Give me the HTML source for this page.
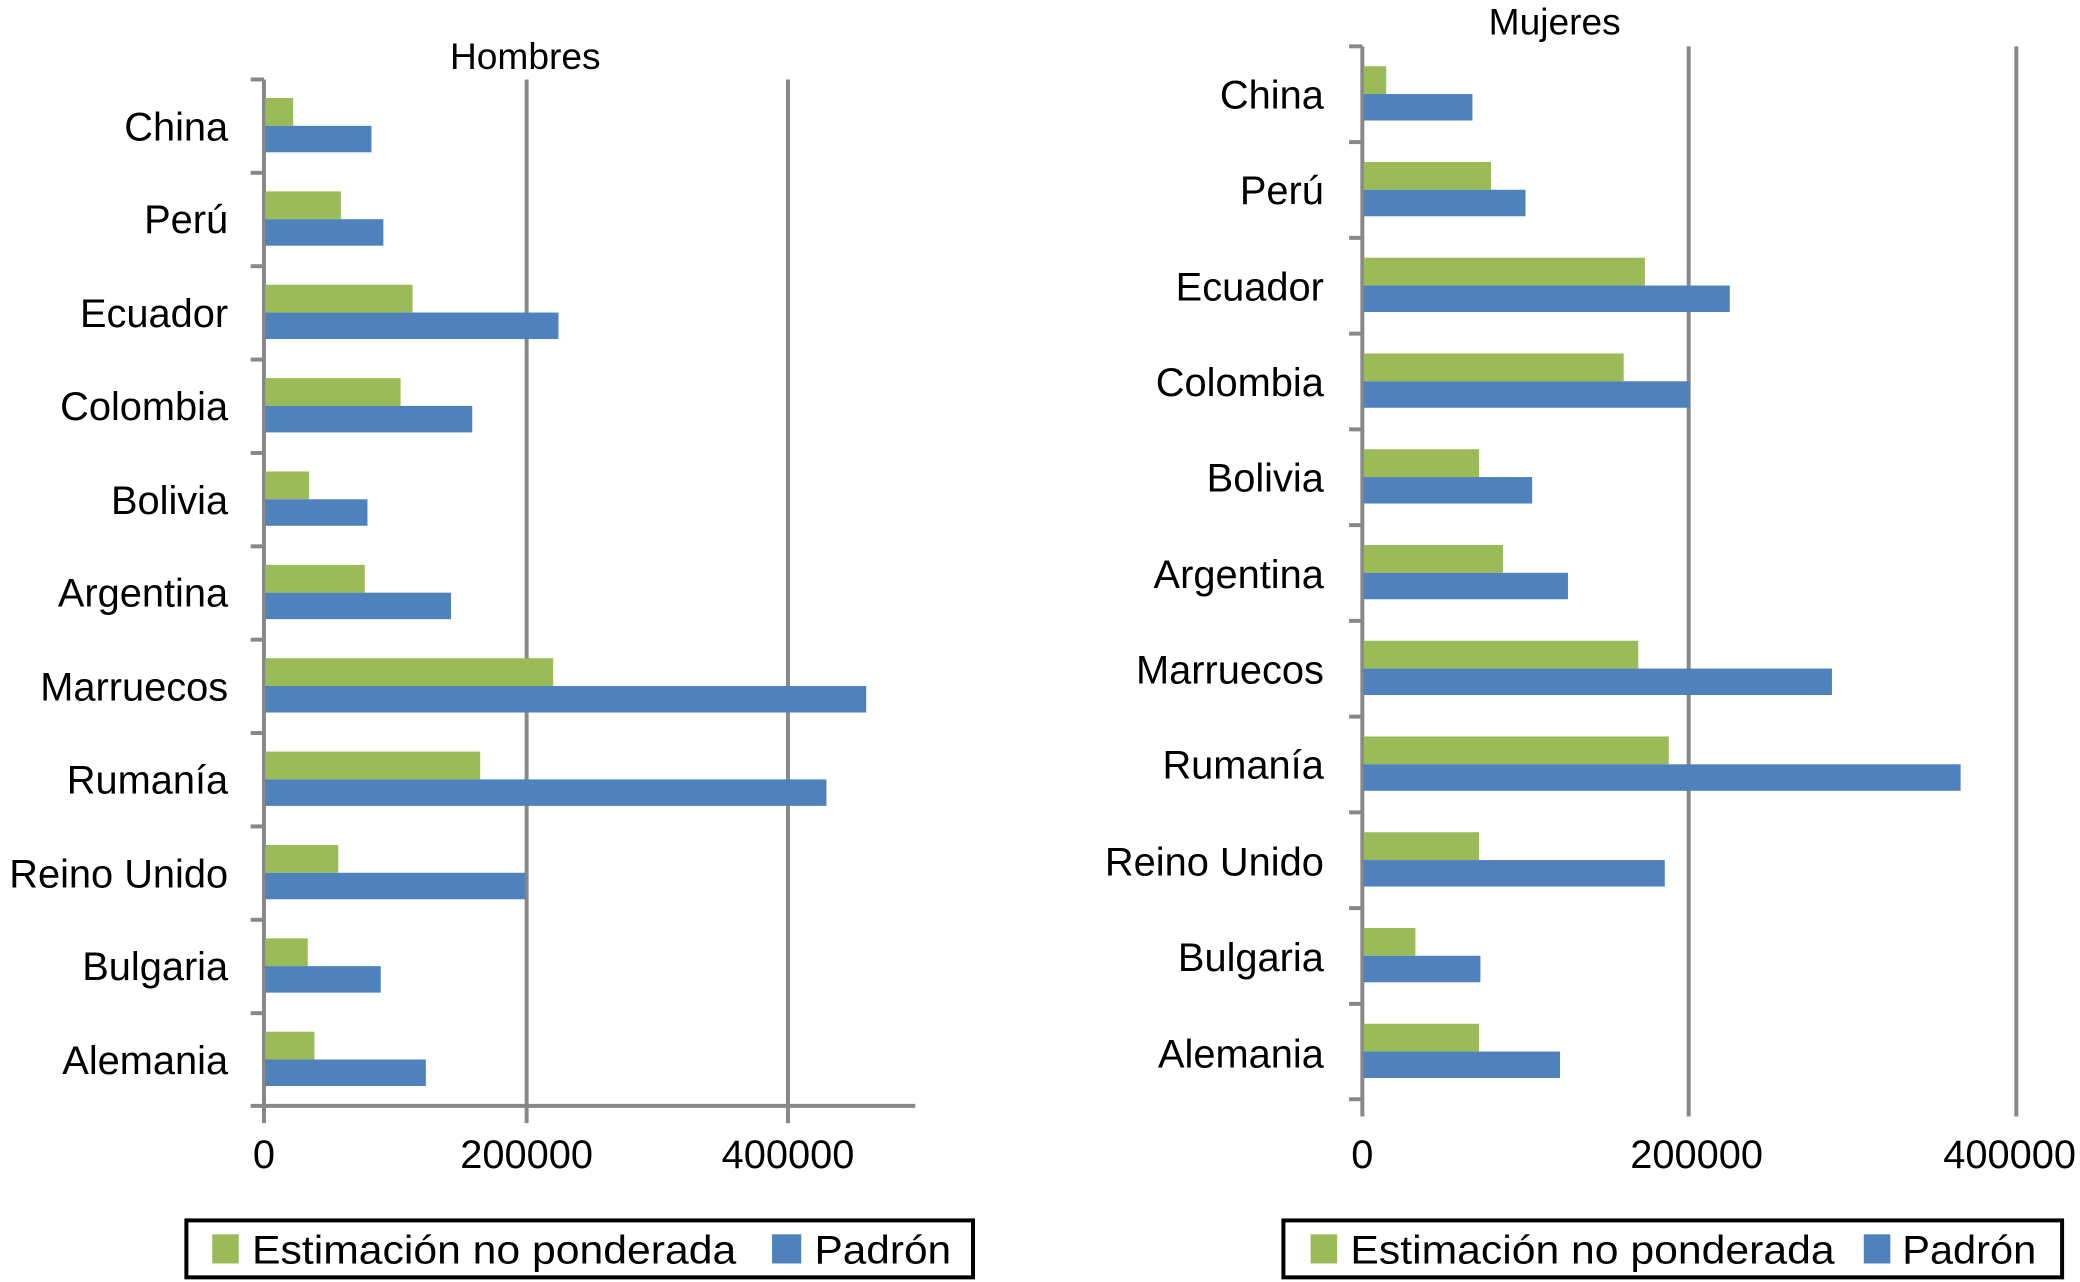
<!DOCTYPE html>
<html><head><meta charset="utf-8"><style>html,body{margin:0;padding:0;background:#fff}svg{display:block}text{font-family:"Liberation Sans",sans-serif;fill:#000}</style></head>
<body>
<svg width="2080" height="1282" viewBox="0 0 1568 968" preserveAspectRatio="none" xmlns="http://www.w3.org/2000/svg">
<rect width="1568" height="968" fill="#fff"/>
<g stroke="#888" stroke-width="3">
<line x1="397" y1="60" x2="397" y2="848"/><line x1="594" y1="60" x2="594" y2="848"/>
<line x1="199" y1="60" x2="199" y2="848"/><line x1="189" y1="835" x2="690" y2="835"/>
<line x1="189" y1="60" x2="199" y2="60"/><line x1="189" y1="130.5" x2="199" y2="130.5"/><line x1="189" y1="201" x2="199" y2="201"/><line x1="189" y1="271.5" x2="199" y2="271.5"/><line x1="189" y1="342" x2="199" y2="342"/><line x1="189" y1="412.5" x2="199" y2="412.5"/><line x1="189" y1="483" x2="199" y2="483"/><line x1="189" y1="553.5" x2="199" y2="553.5"/><line x1="189" y1="624" x2="199" y2="624"/><line x1="189" y1="694.5" x2="199" y2="694.5"/><line x1="189" y1="765" x2="199" y2="765"/>
</g>
<g>
<rect x="200" y="74" width="21" height="21" fill="#9bbb59"/><rect x="200" y="95" width="80" height="20" fill="#4f81bd"/>
<rect x="200" y="144.5" width="57" height="21" fill="#9bbb59"/><rect x="200" y="165.5" width="89" height="20" fill="#4f81bd"/>
<rect x="200" y="215" width="111" height="21" fill="#9bbb59"/><rect x="200" y="236" width="221" height="20" fill="#4f81bd"/>
<rect x="200" y="285.5" width="102" height="21" fill="#9bbb59"/><rect x="200" y="306.5" width="156" height="20" fill="#4f81bd"/>
<rect x="200" y="356" width="33" height="21" fill="#9bbb59"/><rect x="200" y="377" width="77" height="20" fill="#4f81bd"/>
<rect x="200" y="426.5" width="75" height="21" fill="#9bbb59"/><rect x="200" y="447.5" width="140" height="20" fill="#4f81bd"/>
<rect x="200" y="497" width="217" height="21" fill="#9bbb59"/><rect x="200" y="518" width="453" height="20" fill="#4f81bd"/>
<rect x="200" y="567.5" width="162" height="21" fill="#9bbb59"/><rect x="200" y="588.5" width="423" height="20" fill="#4f81bd"/>
<rect x="200" y="638" width="55" height="21" fill="#9bbb59"/><rect x="200" y="659" width="196" height="20" fill="#4f81bd"/>
<rect x="200" y="708.5" width="32" height="21" fill="#9bbb59"/><rect x="200" y="729.5" width="87" height="20" fill="#4f81bd"/>
<rect x="200" y="779" width="37" height="21" fill="#9bbb59"/><rect x="200" y="800" width="121" height="20" fill="#4f81bd"/>
</g>
<g font-size="30" text-anchor="end">
<text x="172" y="106">China</text><text x="172" y="176">Perú</text><text x="172" y="247">Ecuador</text><text x="172" y="317">Colombia</text><text x="172" y="388">Bolivia</text><text x="172" y="458">Argentina</text><text x="172" y="529">Marruecos</text><text x="172" y="599">Rumanía</text><text x="172" y="670">Reino Unido</text><text x="172" y="740">Bulgaria</text><text x="172" y="811">Alemania</text>
</g>
<text x="396" y="52" font-size="28" text-anchor="middle">Hombres</text>
<g font-size="30" text-anchor="middle"><text x="199" y="882">0</text><text x="397" y="882">200000</text><text x="594" y="882">400000</text></g>
<rect x="140.5" y="921.5" width="593" height="43" fill="none" stroke="#000" stroke-width="3"/>
<rect x="160" y="932" width="20" height="22" fill="#9bbb59"/><text x="190" y="954" font-size="30" textLength="365" lengthAdjust="spacingAndGlyphs">Estimación  no ponderada</text>
<rect x="582" y="932" width="22" height="22" fill="#4f81bd"/><text x="614" y="954" font-size="30" textLength="103" lengthAdjust="spacingAndGlyphs">Padrón</text>
<g stroke="#888" stroke-width="3">
<line x1="1273" y1="35" x2="1273" y2="843"/><line x1="1520" y1="35" x2="1520" y2="843"/>
<line x1="1027" y1="35" x2="1027" y2="843"/>
<line x1="1017" y1="35" x2="1027" y2="35"/><line x1="1017" y1="107.3" x2="1027" y2="107.3"/><line x1="1017" y1="179.6" x2="1027" y2="179.6"/><line x1="1017" y1="251.9" x2="1027" y2="251.9"/><line x1="1017" y1="324.2" x2="1027" y2="324.2"/><line x1="1017" y1="396.5" x2="1027" y2="396.5"/><line x1="1017" y1="468.8" x2="1027" y2="468.8"/><line x1="1017" y1="541.1" x2="1027" y2="541.1"/><line x1="1017" y1="613.4" x2="1027" y2="613.4"/><line x1="1017" y1="685.7" x2="1027" y2="685.7"/><line x1="1017" y1="758" x2="1027" y2="758"/><line x1="1017" y1="830" x2="1027" y2="830"/>
</g>
<g>
<rect x="1028" y="50" width="17" height="21" fill="#9bbb59"/><rect x="1028" y="71" width="82" height="20" fill="#4f81bd"/>
<rect x="1028" y="122.3" width="96" height="21" fill="#9bbb59"/><rect x="1028" y="143.3" width="122" height="20" fill="#4f81bd"/>
<rect x="1028" y="194.6" width="212" height="21" fill="#9bbb59"/><rect x="1028" y="215.6" width="276" height="20" fill="#4f81bd"/>
<rect x="1028" y="266.9" width="196" height="21" fill="#9bbb59"/><rect x="1028" y="287.9" width="246" height="20" fill="#4f81bd"/>
<rect x="1028" y="339.2" width="87" height="21" fill="#9bbb59"/><rect x="1028" y="360.2" width="127" height="20" fill="#4f81bd"/>
<rect x="1028" y="411.5" width="105" height="21" fill="#9bbb59"/><rect x="1028" y="432.5" width="154" height="20" fill="#4f81bd"/>
<rect x="1028" y="483.8" width="207" height="21" fill="#9bbb59"/><rect x="1028" y="504.8" width="353" height="20" fill="#4f81bd"/>
<rect x="1028" y="556.1" width="230" height="21" fill="#9bbb59"/><rect x="1028" y="577.1" width="450" height="20" fill="#4f81bd"/>
<rect x="1028" y="628.4" width="87" height="21" fill="#9bbb59"/><rect x="1028" y="649.4" width="227" height="20" fill="#4f81bd"/>
<rect x="1028" y="700.7" width="39" height="21" fill="#9bbb59"/><rect x="1028" y="721.7" width="88" height="20" fill="#4f81bd"/>
<rect x="1028" y="773" width="87" height="21" fill="#9bbb59"/><rect x="1028" y="794" width="148" height="20" fill="#4f81bd"/>
</g>
<g font-size="30" text-anchor="end">
<text x="998" y="82">China</text><text x="998" y="154">Perú</text><text x="998" y="227">Ecuador</text><text x="998" y="299">Colombia</text><text x="998" y="371">Bolivia</text><text x="998" y="444">Argentina</text><text x="998" y="516">Marruecos</text><text x="998" y="588">Rumanía</text><text x="998" y="661">Reino Unido</text><text x="998" y="733">Bulgaria</text><text x="998" y="806">Alemania</text>
</g>
<text x="1172" y="26" font-size="28" text-anchor="middle">Mujeres</text>
<g font-size="30" text-anchor="middle"><text x="1027" y="882">0</text><text x="1279" y="882">200000</text><text x="1515" y="882">400000</text></g>
<rect x="967.5" y="921.5" width="587" height="43" fill="none" stroke="#000" stroke-width="3"/>
<rect x="988" y="932" width="20" height="22" fill="#9bbb59"/><text x="1018" y="954" font-size="30" textLength="365" lengthAdjust="spacingAndGlyphs">Estimación  no ponderada</text>
<rect x="1405" y="932" width="20" height="22" fill="#4f81bd"/><text x="1434" y="954" font-size="30" textLength="101" lengthAdjust="spacingAndGlyphs">Padrón</text>
</svg>
</body></html>
